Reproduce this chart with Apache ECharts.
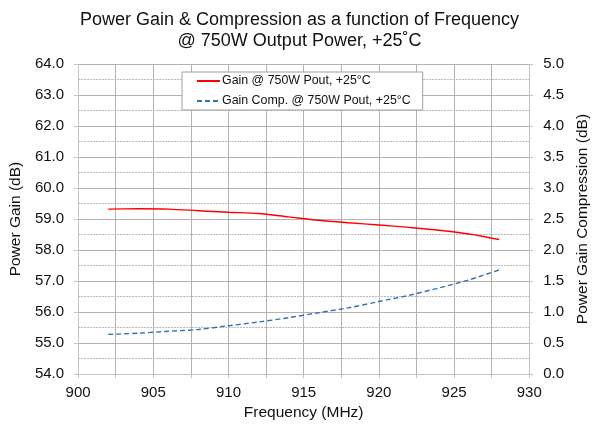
<!DOCTYPE html>
<html><head><meta charset="utf-8">
<script src="https://cdn.jsdelivr.net/npm/echarts@6/dist/echarts.min.js"></script>
<style>html,body{margin:0;padding:0;background:#fff}#c{width:599px;height:426px}</style>
</head><body><div id="c"></div>
<script>
const titleLines = ['Power Gain & Compression as a function of Frequency', '@ 750W Output Power, +25\u02DAC'];
const freq = [902, 904, 906, 908, 910, 912, 914, 916, 918, 920, 922, 924, 926, 928];
const gain = [59.32, 59.33, 59.32, 59.27, 59.22, 59.18, 59.07, 58.96, 58.88, 58.81, 58.73, 58.64, 58.52, 58.34];
const comp = [0.64, 0.66, 0.69, 0.72, 0.78, 0.84, 0.91, 0.99, 1.07, 1.17, 1.27, 1.39, 1.52, 1.68];
const seriesNames = ['Gain @ 750W Pout, +25\u00B0C', 'Gain Comp. @ 750W Pout, +25\u00B0C'];
const xName = 'Frequency (MHz)';
const yLeftName = 'Power Gain (dB)';
const yRightName = 'Power Gain Compression (dB)';

const FONT = 'Liberation Sans, Arial, sans-serif';
const chart = echarts.init(document.getElementById('c'), null, {renderer: 'canvas'});
const gridCol = '#b3b3b3';
const axCol = '#c4c4c4';
const lblStyle = {fontFamily: FONT, fontSize: 15, color: '#111'};
chart.setOption({
  animation: false,
  textStyle: {fontFamily: FONT},
  title: {
    text: titleLines.join('\n'), left: 'center', top: 5,
    textStyle: {fontFamily: FONT, fontSize: 18, fontWeight: 'normal', color: '#111', lineHeight: 21}
  },
  legend: {
    orient: 'vertical', left: 182, top: 72,
    itemWidth: 23, itemHeight: 10, itemGap: 6,
    padding: [2, 12, 2, 14],
    borderColor: '#a0a0a0', borderWidth: 1, backgroundColor: '#fff', borderRadius: 0,
    itemStyle: {opacity: 0},
    textStyle: {fontFamily: FONT, fontSize: 12.4, color: '#111', lineHeight: 14, padding: [0, 0, 0, -3]},
    data: [{name: seriesNames[0]}, {name: seriesNames[1]}]
  },
  grid: {left: 76, right: 60, top: 64, bottom: 48},
  xAxis: {
    type: 'value', min: 900, max: 930, interval: 5,
    name: xName, nameLocation: 'middle', nameGap: 26,
    nameTextStyle: {fontFamily: FONT, fontSize: 15.5, color: '#111'},
    axisLine: {show: true, lineStyle: {color: axCol}},
    axisTick: {show: true, length: 4, lineStyle: {color: axCol}},
    minorTick: {show: true, splitNumber: 2, length: 4, lineStyle: {color: axCol}},
    axisLabel: Object.assign({margin: 11}, lblStyle),
    splitLine: {show: true, lineStyle: {color: gridCol, width: 1}},
    minorSplitLine: {show: true, lineStyle: {color: gridCol, width: 1}}
  },
  yAxis: [{
    type: 'value', min: 54, max: 64, interval: 1, position: 'left',
    name: yLeftName, nameLocation: 'middle', nameGap: 50, nameRotate: 90,
    nameTextStyle: {fontFamily: FONT, fontSize: 15.5, color: '#111'},
    axisLine: {show: true, lineStyle: {color: axCol}},
    axisTick: {show: true, length: 4, lineStyle: {color: axCol}},
    axisLabel: Object.assign({margin: 14, formatter: v => v.toFixed(1)}, lblStyle),
    splitLine: {show: true, lineStyle: {color: gridCol, width: 1}},
    minorTick: {show: false, splitNumber: 2},
    minorSplitLine: {show: true, lineStyle: {color: '#b8b8b8', type: [2, 1], width: 1}}
  }, {
    type: 'value', min: 0, max: 5, interval: 0.5, position: 'right',
    name: yRightName, nameLocation: 'middle', nameGap: 45, nameRotate: 90,
    nameTextStyle: {fontFamily: FONT, fontSize: 15.5, color: '#111'},
    axisLine: {show: true, lineStyle: {color: axCol}},
    axisTick: {show: true, length: 4, lineStyle: {color: axCol}},
    axisLabel: Object.assign({margin: 14, formatter: v => v.toFixed(1)}, lblStyle),
    splitLine: {show: false}
  }],
  series: [{
    name: seriesNames[0], type: 'line', yAxisIndex: 0, smooth: 0.3,
    symbol: 'none', data: freq.map((f, i) => [f, gain[i]]),
    lineStyle: {color: '#ff0000', width: 1.4}, itemStyle: {color: '#ff0000'}
  }, {
    name: seriesNames[1], type: 'line', yAxisIndex: 1, smooth: 0.3,
    symbol: 'none', data: freq.map((f, i) => [f, comp[i]]),
    lineStyle: {color: '#2e75b6', width: 1.4, type: [5, 3]}, itemStyle: {color: '#2e75b6'}
  }]
});
</script></body></html>
